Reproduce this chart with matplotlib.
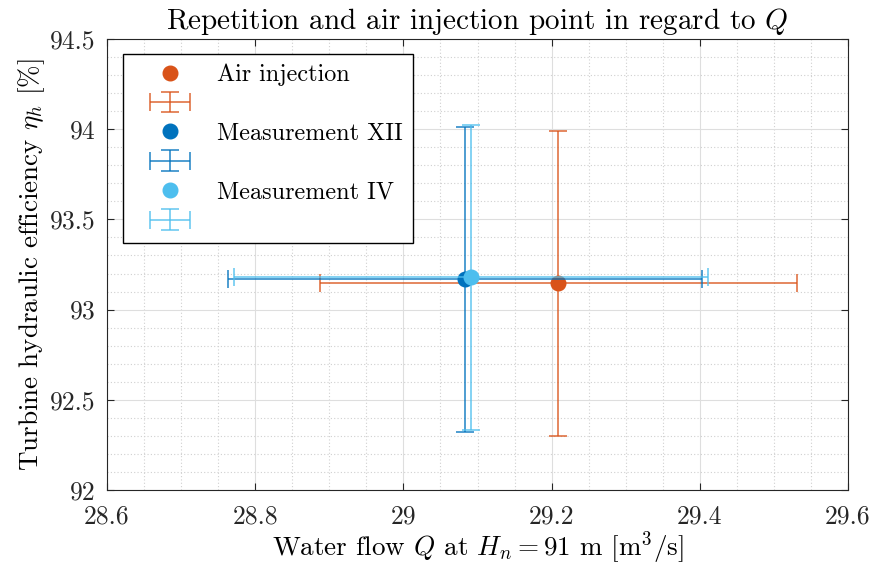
import matplotlib
matplotlib.use("Agg")
import matplotlib.pyplot as plt
from matplotlib.ticker import MultipleLocator
from matplotlib.legend_handler import HandlerErrorbar
from matplotlib.container import ErrorbarContainer

plt.rcParams['font.family'] = 'serif'
plt.rcParams['font.serif'] = ['cmr10']
plt.rcParams['mathtext.fontset'] = 'cm'
plt.rcParams['axes.formatter.use_mathtext'] = True

# data
series = ["Air injection", "Measurement XII", "Measurement IV"]
flow = [29.209, 29.083, 29.091]
flow_err = [0.322, 0.320, 0.320]
eff = [93.146, 93.168, 93.178]
eff_err = [0.844, 0.844, 0.844]
colors = ["#D95319", "#0072BD", "#4DBEEE"]
xticks = [28.6, 28.8, 29.0, 29.2, 29.4, 29.6]
xticklabels = ["28.6", "28.8", "29", "29.2", "29.4", "29.6"]
yticks = [92, 92.5, 93, 93.5, 94, 94.5]
yticklabels = ["92", "92.5", "93", "93.5", "94", "94.5"]

fig = plt.figure(figsize=(8.72, 5.69), dpi=100)
ax = fig.add_axes([0.1227, 0.1388, 0.8498, 0.7927])

handles = []
labels = []
for i in range(len(series)):
    dot, = ax.plot(flow[i], eff[i], 'o', color=colors[i], ms=10.5, zorder=3)
    eb = ax.errorbar(flow[i], eff[i], xerr=flow_err[i], yerr=eff_err[i],
                     fmt='none', ecolor=colors[i], alpha=0.75, elinewidth=1.3,
                     capsize=6.5, capthick=1.3, zorder=3)
    handles += [dot, eb]
    labels += [series[i], '']

ax.set_xlim(28.6, 29.6)
ax.set_ylim(92, 94.5)
ax.set_xticks(xticks)
ax.set_xticklabels(xticklabels)
ax.set_yticks(yticks)
ax.set_yticklabels(yticklabels)
ax.xaxis.set_minor_locator(MultipleLocator(0.05))
ax.yaxis.set_minor_locator(MultipleLocator(0.1))

ax.grid(True, which='major', color='#dedede', linewidth=0.8)
ax.grid(True, which='minor', color='#d0d0d0', linestyle=(0, (1, 2)), linewidth=0.8)
ax.set_axisbelow(True)
ax.tick_params(which='both', direction='in', top=True, right=True, colors='#262626',
               labelsize=18.5)
ax.tick_params(which='major', length=5)
ax.tick_params(which='minor', length=0)
ax.tick_params(axis='x', pad=10.5)
ax.tick_params(axis='y', pad=8.5)
for s in ax.spines.values():
    s.set_color('#262626')
    s.set_linewidth(0.8)

ax.set_title("Repetition and air injection point in regard to $Q$", fontsize=21, pad=7)
ax.set_xlabel("Water flow $Q$ at $H_n = 91$ m [m$^3$/s]", fontsize=19.5, labelpad=0.5)
ax.set_ylabel(r"Turbine hydraulic efficiency $\eta_h$ [%]", fontsize=19.5, labelpad=2)

leg = ax.legend(handles, labels, loc='upper left', bbox_to_anchor=(0.0216, 0.9667),
                fontsize=17.4, frameon=True, fancybox=False, framealpha=1,
                edgecolor='black', handlelength=3.1, handletextpad=0.4,
                labelspacing=0.3, borderpad=0.4, borderaxespad=0,
                handler_map={ErrorbarContainer: HandlerErrorbar(xerr_size=0.83, yerr_size=0.43)})
leg.get_frame().set_linewidth(1.0)

fig.savefig("out.png", dpi=100)
